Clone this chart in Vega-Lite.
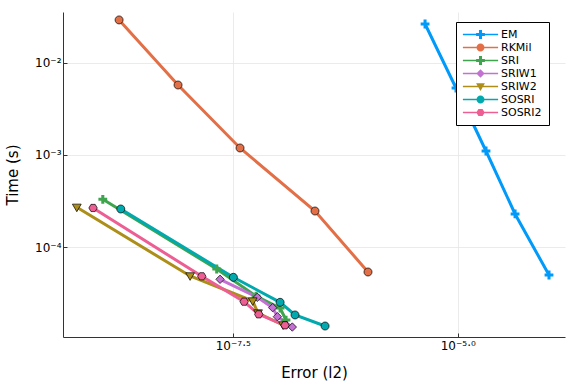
{
  "$schema": "https://vega.github.io/schema/vega-lite/v6.json",
  "width": 502,
  "height": 325,
  "autosize": {"type": "none"},
  "padding": {"left": 63, "top": 12, "right": 11, "bottom": 47},
  "background": "white",
  "config": {"view": {"stroke": null}, "font": "DejaVu Sans"},
  "data": {"values": [
    {"method": "EM", "i": 1, "err": 4.335e-6, "time": 0.02624},
    {"method": "EM", "i": 2, "err": 9.57e-6, "time": 5.32e-3},
    {"method": "EM", "i": 3, "err": 2.061e-5, "time": 1.104e-3},
    {"method": "EM", "i": 4, "err": 4.335e-5, "time": 2.296e-4},
    {"method": "EM", "i": 5, "err": 1.033e-4, "time": 5.01e-5},
    {"method": "RKMil", "i": 1, "err": 1.726e-9, "time": 2.904e-2},
    {"method": "RKMil", "i": 2, "err": 7.80e-9, "time": 5.73e-3},
    {"method": "RKMil", "i": 3, "err": 3.81e-8, "time": 1.191e-3},
    {"method": "RKMil", "i": 4, "err": 2.594e-7, "time": 2.472e-4},
    {"method": "RKMil", "i": 5, "err": 1.007e-6, "time": 5.40e-5},
    {"method": "SRI", "i": 1, "err": 1.138e-9, "time": 3.311e-4},
    {"method": "SRI", "i": 2, "err": 2.099e-8, "time": 5.82e-5},
    {"method": "SRI", "i": 3, "err": 5.74e-8, "time": 2.965e-5},
    {"method": "SRI", "i": 4, "err": 1.062e-7, "time": 2.198e-5},
    {"method": "SRI", "i": 5, "err": 1.236e-7, "time": 1.629e-5},
    {"method": "SRIW1", "i": 1, "err": 2.286e-8, "time": 4.50e-5},
    {"method": "SRIW1", "i": 2, "err": 5.93e-8, "time": 2.871e-5},
    {"method": "SRIW1", "i": 3, "err": 8.79e-8, "time": 2.218e-5},
    {"method": "SRIW1", "i": 4, "err": 9.91e-8, "time": 1.770e-5},
    {"method": "SRIW1", "i": 5, "err": 1.452e-7, "time": 1.368e-5},
    {"method": "SRIW2", "i": 1, "err": 5.85e-10, "time": 2.710e-4},
    {"method": "SRIW2", "i": 2, "err": 1.062e-8, "time": 4.89e-5},
    {"method": "SRIW2", "i": 3, "err": 5.27e-8, "time": 2.618e-5},
    {"method": "SRIW2", "i": 4, "err": 6.04e-8, "time": 1.941e-5},
    {"method": "SRIW2", "i": 5, "err": 1.146e-7, "time": 1.439e-5},
    {"method": "SOSRI", "i": 1, "err": 1.803e-9, "time": 2.600e-4},
    {"method": "SOSRI", "i": 2, "err": 3.214e-8, "time": 4.73e-5},
    {"method": "SOSRI", "i": 3, "err": 1.062e-7, "time": 2.535e-5},
    {"method": "SOSRI", "i": 4, "err": 1.556e-7, "time": 1.849e-5},
    {"method": "SOSRI", "i": 5, "err": 3.357e-7, "time": 1.403e-5},
    {"method": "SOSRI2", "i": 1, "err": 8.87e-10, "time": 2.667e-4},
    {"method": "SOSRI2", "i": 2, "err": 1.432e-8, "time": 4.85e-5},
    {"method": "SOSRI2", "i": 3, "err": 4.23e-8, "time": 2.576e-5},
    {"method": "SOSRI2", "i": 4, "err": 6.15e-8, "time": 1.879e-5},
    {"method": "SOSRI2", "i": 5, "err": 1.205e-7, "time": 1.429e-5}
  ]},
  "encoding": {
    "x": {
      "field": "err", "type": "quantitative",
      "scale": {"type": "log", "domain": [4.11e-10, 1.556e-4]},
      "title": "Error (l2)",
      "axis": {
        "values": [3.16227766e-8, 1e-5],
        "labelExpr": "datum.value < 1e-6 ? '10⁻⁷·⁵' : '10⁻⁵·⁰'",
        "grid": true, "gridColor": "#e6e6e6", "gridWidth": 0.8,
        "domainColor": "#333333", "domainWidth": 1,
        "tickColor": "#333333", "tickSize": -4,
        "labelFontSize": 12, "labelColor": "black", "labelPadding": 7,
        "titleFontSize": 15, "titleFontWeight": "normal", "titleColor": "black", "titlePadding": 14
      }
    },
    "y": {
      "field": "time", "type": "quantitative",
      "scale": {"type": "log", "domain": [1.067e-5, 0.0354]},
      "title": "Time (s)",
      "axis": {
        "values": [1e-4, 1e-3, 1e-2],
        "labelExpr": "datum.value < 5e-4 ? '10⁻⁴' : datum.value < 5e-3 ? '10⁻³' : '10⁻²'",
        "grid": true, "gridColor": "#e6e6e6", "gridWidth": 0.8,
        "domainColor": "#333333", "domainWidth": 1,
        "tickColor": "#333333", "tickSize": -4,
        "labelFontSize": 12, "labelColor": "black", "labelPadding": 6,
        "titleFontSize": 15, "titleFontWeight": "normal", "titleColor": "black", "titlePadding": 14
      }
    },
    "color": {
      "field": "method", "type": "nominal",
      "scale": {
        "domain": ["EM", "RKMil", "SRI", "SRIW1", "SRIW2", "SOSRI", "SOSRI2"],
        "range": ["#009AFA", "#E36F47", "#3EA44E", "#C371D2", "#AC8E18", "#00A9AD", "#ED5E93"]
      },
      "legend": {
        "orient": "none", "legendX": 393, "legendY": 10, "title": null,
        "strokeColor": "black", "fillColor": "white", "padding": 7,
        "labelFont": "DejaVu Sans", "labelFontSize": 11, "labelColor": "black",
        "symbolSize": 64, "symbolOffset": 12, "labelOffset": 15, "rowPadding": 1,
        "symbolOpacity": 1,
        "symbolType": {"expr": "(datum.value === 'EM' || datum.value === 'SRI') ? 'M-4.4,-0.19H4.4V0.19H-4.4Z M-1.1,-0.38H-0.38V-1.1H0.38V-0.38H1.1V0.38H0.38V1.1H-0.38V0.38H-1.1Z' : datum.value === 'SRIW1' ? 'M-4.4,-0.19H4.4V0.19H-4.4Z M0,-1.05L1.05,0L0,1.05L-1.05,0Z' : datum.value === 'SRIW2' ? 'M-4.4,-0.19H4.4V0.19H-4.4Z M-1.1,-0.8L1.1,-0.8L0,1.1Z' : datum.value === 'SOSRI2' ? 'M-4.4,-0.19H4.4V0.19H-4.4Z M-1.05,0L-0.52,-0.9L0.52,-0.9L1.05,0L0.52,0.9L-0.52,0.9Z' : 'M-4.4,-0.19H4.4V0.19H-4.4Z M-1,0A1,1,0,1,1,1,0A1,1,0,1,1,-1,0Z'"},
        "encode": {
          "symbols": {
            "update": {
              "fill": {"scale": "color", "field": "value"},
              "fillOpacity": {"value": 1},
              "strokeWidth": {"value": 0}
            }
          }
        }
      }
    }
  },
  "layer": [
    {
      "mark": {"type": "line", "strokeWidth": 3},
      "encoding": {
        "order": {"field": "i", "type": "quantitative"}
      }
    },
    {
      "mark": {
        "type": "point", "filled": true, "size": 64, "opacity": 1, "stroke": "black", "strokeWidth": 0.7,
        "shape": {"expr": "(datum.method === 'EM' || datum.method === 'SRI') ? 'M-1.1,-0.38H-0.38V-1.1H0.38V-0.38H1.1V0.38H0.38V1.1H-0.38V0.38H-1.1Z' : datum.method === 'SRIW1' ? 'M0,-1.05L1.05,0L0,1.05L-1.05,0Z' : datum.method === 'SRIW2' ? 'M-1.1,-0.8L1.1,-0.8L0,1.1Z' : datum.method === 'SOSRI2' ? 'M-1.05,0L-0.52,-0.9L0.52,-0.9L1.05,0L0.52,0.9L-0.52,0.9Z' : 'M-1,0A1,1,0,1,1,1,0A1,1,0,1,1,-1,0Z'"}
      },
      "encoding": {
        "strokeOpacity": {
          "condition": {"test": "datum.method === 'EM' || datum.method === 'SRI'", "value": 0},
          "value": 1
        }
      }
    }
  ]
}
